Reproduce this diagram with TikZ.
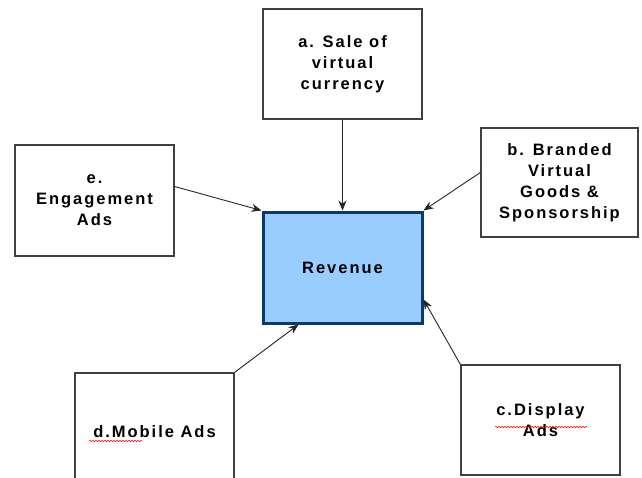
\documentclass[tikz,border=0pt]{standalone}
\usepackage{fontspec}
\setmainfont{Liberation Sans}[LetterSpace=12]
\usetikzlibrary{arrows.meta,decorations.pathmorphing}
\definecolor{boxline}{HTML}{404040}
\definecolor{revfill}{HTML}{99CCFF}
\definecolor{revline}{HTML}{0A3A6A}
\tikzset{
  src/.style={draw=boxline, line width=1.3pt, fill=white, align=center,
    font=\fontsize{16.5}{21}\selectfont\bfseries, inner sep=0pt},
  rev/.style={draw=revline, line width=3pt, fill=revfill, align=center,
    font=\fontsize{16.5}{21}\selectfont\bfseries, inner sep=0pt},
  conn/.style={line width=0.9pt, draw=black!85, -{Stealth[length=10pt,width=8pt]}},
  spell/.style={draw=red, line width=0.5pt, decorate,
    decoration={snake, amplitude=0.8pt, segment length=3pt}}
}
\begin{document}
\begin{tikzpicture}[x=1pt,y=-1pt]
\useasboundingbox (0,0) rectangle (642,477);
\node[rev, minimum width=159pt, minimum height=111pt] (rev) at (342.5,267.5) {Revenue};
\node[src, minimum width=159pt, minimum height=110pt] (a) at (342.5,64) {a. Sale of\\virtual\\currency};
\node[src, minimum width=157pt, minimum height=109pt] (b) at (559.5,182.5) {b. Branded\\Virtual\\Goods \&\\Sponsorship};
\node[src, minimum width=159pt, minimum height=111pt] (e) at (94.5,200.5) {e.\\Engagement\\Ads};
\node[src, minimum width=159pt, minimum height=117pt] (d) at (154.5,431.5) {d.Mobile Ads};
\node[src, minimum width=159pt, minimum height=110pt] (c) at (540.5,420) {c.Display\\Ads};
\draw[conn] (a.south) -- (rev.north);
\draw[conn] ([yshift=10pt]b.west) -- (rev.north east);
\draw[conn] ([yshift=14pt]e.east) -- (rev.north west);
\draw[conn] (d.north east) -- ([xshift=37pt]rev.south west);
\draw[conn] (c.north west) -- ([yshift=25pt]rev.south east);
\draw[spell] (89,441) -- (142,441);
\draw[spell] (495,427) -- (587,427);
\end{tikzpicture}
\end{document}
